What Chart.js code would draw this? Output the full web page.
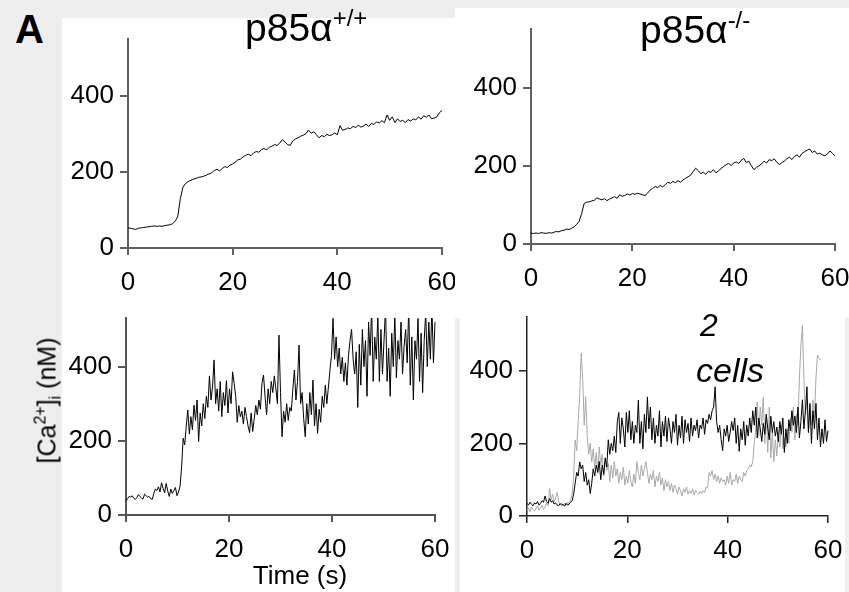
<!DOCTYPE html>
<html>
<head>
<meta charset="utf-8">
<script src="https://cdn.jsdelivr.net/npm/chart.js@4.4.0/dist/chart.umd.min.js"></script>
<style>
body { margin: 0; width: 849px; height: 592px; background: #eeeeee; position: relative; overflow: hidden;
       font-family: "Liberation Sans", Arial, sans-serif; color: #000; }
.bg { position: absolute; background: #fff; }
canvas { position: absolute; }
.txt { position: absolute; line-height: 1; white-space: nowrap; }
</style>
</head>
<body>
<div class="bg" style="left:62px;top:18px;width:393px;height:574px"></div>
<canvas id="tl"></canvas>
<canvas id="bl"></canvas>
<div class="bg" style="left:455px;top:8px;width:394px;height:310px"></div>
<div class="bg" style="left:460px;top:310px;width:385px;height:282px"></div>
<canvas id="tr"></canvas>
<canvas id="br"></canvas>

<div class="txt" style="left:15px;top:9px;font-size:40px;font-weight:bold">A</div>
<div class="txt" style="left:245px;top:8px;font-size:39px">p85α<span style="font-size:24px;position:relative;top:-15px">+/+</span></div>
<div class="txt" style="left:640px;top:10px;font-size:39px">p85α<span style="font-size:24px;position:relative;top:-15px">-/-</span></div>
<div class="txt" style="left:200px;top:562px;width:200px;text-align:center;font-size:26px">Time (s)</div>
<div class="txt" style="left:-53px;top:388px;width:200px;text-align:center;font-size:25px;transform:rotate(-90deg)">[Ca<span style="font-size:16px;position:relative;top:-10px">2+</span>]<span style="font-size:16px;position:relative;top:5px">i</span> (nM)</div>
<div class="txt" style="left:700px;top:309px;font-size:32px;font-style:italic">2</div>
<div class="txt" style="left:696px;top:353px;font-size:34px;font-style:italic">cells</div>

<script>
// sampling intervals (s)
const TOP_DT = 0.5;
const BOTTOM_DT = 0.3;

const X_TICKS = [0, 20, 40, 60];
const Y_TICKS = [0, 200, 400];

// p85a +/+ , single cell (top left)
const TL_VALUES = [53,52,50,49,52,53,54,55,56,57,
  58,57,58,57,59,60,61,64,70,82,
  130,160,170,175,178,181,183,186,187,189,
  192,195,198,204,207,203,209,214,212,218,
  221,226,232,234,240,244,247,243,250,254,
  252,259,262,258,265,268,272,270,276,285,
  279,272,270,282,287,290,294,297,301,310,
  302,306,298,290,296,293,299,296,298,303,
  298,322,310,312,316,314,320,317,323,318,
  321,326,320,328,325,332,329,335,330,350,
  336,345,330,340,333,336,330,338,334,340,
  337,345,339,348,344,350,340,342,345,356,
  362,348,350,340];

// p85a -/- , single cell (top right)
const TR_VALUES = [28,27,28,27,29,28,27,29,28,30,
  32,31,34,35,38,37,40,44,50,58,
  78,104,107,108,110,112,118,115,113,116,
  111,115,118,121,117,126,122,124,128,125,
  129,127,130,128,126,124,130,138,142,147,
  144,150,146,152,158,155,160,157,162,158,
  164,168,172,176,185,194,188,180,184,178,
  186,183,190,182,187,193,198,203,206,201,
  207,210,206,214,219,208,212,200,190,196,
  200,205,212,207,216,213,218,210,203,208,
  212,218,222,216,224,228,222,232,236,240,
  243,234,238,230,232,228,226,230,238,232,
  225,216];

// p85a +/+ , noisy cell (bottom left)
const BL_VALUES = [38,44,50,48,52,45,42,47,55,50,
  46,43,56,52,48,50,44,42,58,70,
  66,76,62,87,72,60,85,65,50,70,
  58,66,74,52,62,78,130,207,189,240,
  283,218,265,230,296,255,310,198,275,240,
  300,260,320,290,375,310,345,418,300,340,
  280,360,265,330,295,362,275,340,300,386,
  355,320,250,295,265,280,245,290,265,240,
  222,275,225,260,295,270,310,285,355,377,
  320,270,340,300,360,330,375,340,300,485,
  330,211,280,250,300,255,290,280,340,391,
  310,360,458,300,330,260,211,300,245,330,
  270,364,240,300,220,285,250,320,290,350,
  300,345,390,430,530,420,480,400,450,380,
  425,360,410,350,430,470,500,420,380,440,
  290,460,350,500,400,470,320,520,430,560,
  360,480,420,540,360,500,380,470,560,360,
  450,320,490,400,540,370,470,420,520,380,
  455,500,410,560,350,480,310,470,420,530,
  360,490,330,470,545,400,520,420,560,410,
  520,370,470];

// p85a -/- , 2 cells (bottom right)
const BR_BLACK = [35,30,38,32,28,36,33,40,30,35,
  42,38,55,40,35,48,38,42,33,36,
  30,28,34,30,32,27,35,30,33,38,
  42,60,90,120,110,149,130,140,95,120,
  85,100,62,90,130,110,140,120,150,100,
  140,115,160,135,210,170,200,180,220,175,
  260,285,200,270,240,190,285,230,290,210,
  260,200,250,230,319,200,260,185,280,230,
  328,240,300,210,270,200,250,220,290,190,
  260,220,275,205,270,240,200,260,230,280,
  195,250,215,275,200,265,230,255,205,270,
  220,250,235,265,215,250,240,270,225,265,
  255,280,265,290,300,356,260,230,250,210,
  180,240,220,250,205,230,260,235,270,200,
  250,178,240,210,260,195,250,220,270,230,
  290,250,300,215,270,240,205,255,225,280,
  240,210,275,230,260,220,245,205,260,225,
  270,175,240,200,265,235,290,250,275,230,
  300,215,260,320,240,290,356,230,310,200,
  290,240,310,210,270,190,240,200,265,205,
  235,200,220];

const BR_GRAY = [15,22,12,25,18,14,20,28,16,22,
  30,18,25,35,28,76,45,60,38,50,
  65,42,30,36,28,35,30,38,32,45,
  60,110,209,180,260,330,449,380,250,328,
  220,170,200,150,185,130,175,120,190,140,
  170,110,160,125,145,95,140,105,150,110,
  130,90,120,100,135,85,110,90,125,95,
  80,115,90,150,120,100,140,110,130,150,
  120,90,115,100,125,80,110,95,120,85,
  105,70,100,80,95,70,90,65,85,75,
  60,80,70,55,75,65,80,60,70,62,
  75,58,70,65,60,68,62,70,65,80,
  78,120,110,125,100,115,95,110,90,105,
  95,100,85,110,90,120,85,100,95,115,
  90,110,100,95,120,110,125,130,140,135,
  150,200,240,314,220,300,250,328,200,280,
  175,300,160,230,150,210,165,230,190,250,
  185,215,190,240,200,270,230,300,210,280,
  250,380,470,525,380,280,320,230,300,250,
  320,270,380,443,435,429];

const toPoints = (vals, dt) => vals.map((v, i) => ({ x: +(i * dt).toFixed(2), y: v }));

const tickFont = { family: '"Liberation Sans", Arial, sans-serif', size: 26 };

function panel(id, area, yMax, datasets, axisColor, axisWidth) {
  const padL = 10, padT = 30, padR = 30, padB = 10, yW = 72, xH = 50;
  const cv = document.getElementById(id);
  cv.width = area.right - area.left + padL + yW + padR;
  cv.height = area.bottom - area.top + padT + xH + padB;
  cv.style.left = (area.left - padL - yW) + 'px';
  cv.style.top = (area.top - padT) + 'px';

  return new Chart(cv.getContext('2d'), {
    type: 'line',
    data: { datasets: datasets },
    options: {
      responsive: false,
      animation: false,
      devicePixelRatio: 1,
      events: [],
      layout: { padding: { left: padL, top: padT, right: padR, bottom: padB } },
      plugins: { legend: { display: false }, tooltip: { enabled: false } },
      elements: { point: { radius: 0 }, line: { tension: 0 } },
      scales: {
        x: {
          type: 'linear', min: 0, max: 60,
          afterFit: s => { s.height = xH; },
          afterBuildTicks: s => { s.ticks = X_TICKS.map(v => ({ value: v })); },
          ticks: { font: tickFont, color: '#000', padding: 12, maxRotation: 0, autoSkip: false },
          grid: { drawOnChartArea: false, drawTicks: true, tickLength: 7, color: axisColor, lineWidth: axisWidth },
          border: { color: axisColor, width: axisWidth }
        },
        y: {
          type: 'linear', min: 0, max: yMax,
          afterFit: s => { s.width = yW; },
          afterBuildTicks: s => { s.ticks = Y_TICKS.map(v => ({ value: v })); },
          ticks: { font: tickFont, color: '#000', padding: 6 },
          grid: { drawOnChartArea: false, drawTicks: true, tickLength: 8, color: axisColor, lineWidth: axisWidth },
          border: { color: axisColor, width: axisWidth }
        }
      }
    }
  });
}

const lineStyle = (vals, dt, color) => ({
  data: toPoints(vals, dt),
  borderColor: color,
  borderWidth: 1,
  pointRadius: 0,
  fill: false,
  clip: { left: 10, top: 0, right: 20, bottom: 10 }
});

panel('tl', { left: 128, right: 442, top: 39, bottom: 248 }, 550,
  [lineStyle(TL_VALUES, TOP_DT, '#000')], '#606060', 2);
panel('tr', { left: 531, right: 835, top: 29, bottom: 244 }, 550,
  [lineStyle(TR_VALUES, TOP_DT, '#000')], '#606060', 2);
panel('bl', { left: 126, right: 435, top: 318, bottom: 515 }, 531,
  [lineStyle(BL_VALUES, BOTTOM_DT, '#000')], '#555555', 2);
panel('br', { left: 527, right: 828, top: 317, bottom: 516 }, 548,
  [lineStyle(BR_BLACK, BOTTOM_DT, '#000'), lineStyle(BR_GRAY, BOTTOM_DT, '#a8a8a8')], '#222222', 1.5);
</script>
</body>
</html>
